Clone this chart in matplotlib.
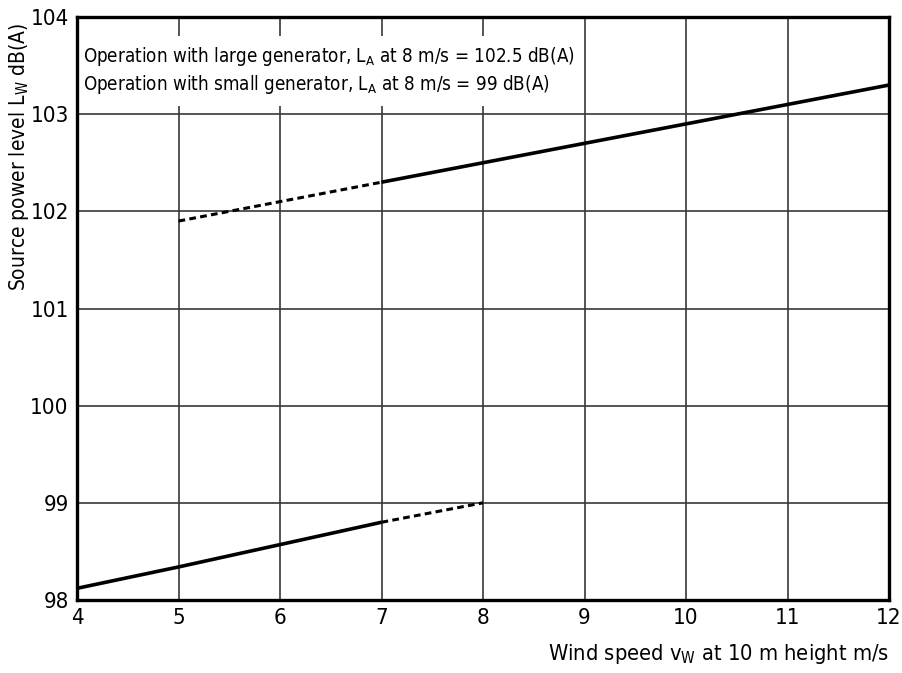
import matplotlib
matplotlib.use("Agg")
import matplotlib.pyplot as plt

# Source power level vs. wind speed for the two generator modes
large_dashed_v = [5, 6, 7]
large_dashed_lw = [101.9, 102.1, 102.3]
large_solid_v = [7, 8, 9, 10, 11, 12]
large_solid_lw = [102.3, 102.5, 102.7, 102.9, 103.1, 103.3]

small_solid_v = [4, 5, 6, 7]
small_solid_lw = [98.12, 98.34, 98.57, 98.8]
small_dashed_v = [7, 8]
small_dashed_lw = [98.8, 99.0]

x_ticks = [4, 5, 6, 7, 8, 9, 10, 11, 12]
y_ticks = [98, 99, 100, 101, 102, 103, 104]

notes = [
    "Operation with large generator, L$_\\mathregular{A}$ at 8 m/s = 102.5 dB(A)",
    "Operation with small generator, L$_\\mathregular{A}$ at 8 m/s = 99 dB(A)",
]

plt.rcParams["font.family"] = ["DejaVu Sans"]
plt.rcParams["font.stretch"] = "condensed"
plt.rcParams["mathtext.fontset"] = "custom"
plt.rcParams["mathtext.rm"] = "DejaVu Sans:stretch=condensed"


def main():
    fig = plt.figure(figsize=(9.02, 6.73), dpi=100)
    ax = fig.add_axes([0.0854, 0.1085, 0.9002, 0.8662])

    ax.plot(large_solid_v, large_solid_lw, color="black", lw=2.6, solid_capstyle="butt")
    ax.plot(large_dashed_v, large_dashed_lw, color="black", lw=2.2, ls=(0, (2.2, 1.4)))
    ax.plot(small_solid_v, small_solid_lw, color="black", lw=2.6, solid_capstyle="butt")
    ax.plot(small_dashed_v, small_dashed_lw, color="black", lw=2.2, ls=(0, (2.2, 1.4)))

    ax.set_xlim(4, 12)
    ax.set_ylim(98, 104)
    ax.set_xticks(x_ticks)
    ax.set_yticks(y_ticks)
    ax.grid(True, color="#383838", lw=1.2)
    ax.set_axisbelow(True)
    ax.tick_params(length=0, labelsize=16, pad=6)
    for s in ax.spines.values():
        s.set_linewidth(2.4)

    # two-line note block on a white ground, hiding the grid (but not the frame)
    ax.text(0.0074, 0.908, "\n".join(notes), transform=ax.transAxes,
            fontsize=13.5, ha="left", va="center", linespacing=1.3, zorder=2,
            bbox=dict(boxstyle="square,pad=0.5", facecolor="white", edgecolor="none"))

    ax.set_ylabel("Source power level L$_\\mathregular{W}$ dB(A)", fontsize=15)
    ax.yaxis.set_label_coords(-0.057, 0.991)
    ax.yaxis.label.set_horizontalalignment("right")
    ax.set_xlabel("Wind speed v$_\\mathregular{W}$ at 10 m height m/s", fontsize=15.7)
    ax.xaxis.set_label_coords(1.0, -0.072)
    ax.xaxis.label.set_horizontalalignment("right")

    fig.savefig("out.png", dpi=100)


if __name__ == "__main__":
    main()
